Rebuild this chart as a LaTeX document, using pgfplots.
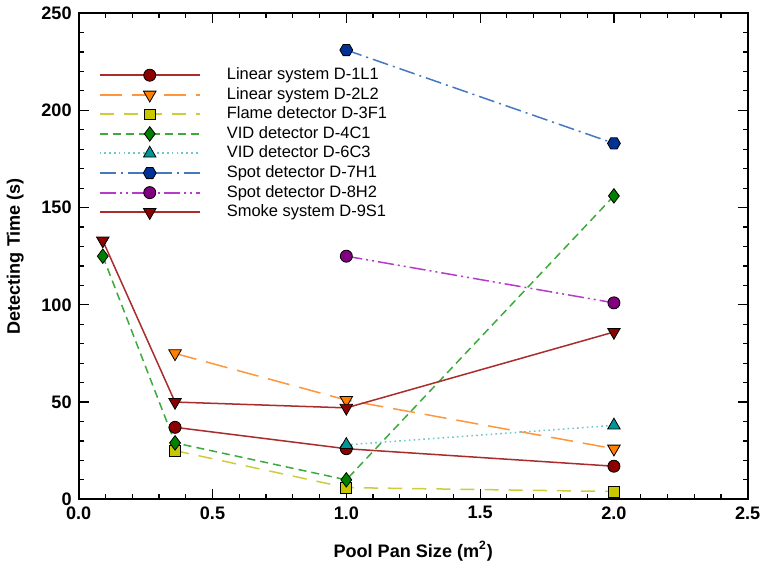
\documentclass[border=0pt]{standalone}
\usepackage{fontspec}
\setmainfont{Liberation Sans}
\usepackage{pgfplots}
\pgfplotsset{compat=1.18}
\pgfdeclareplotmark{hexagon*}{%
  \pgfpathmoveto{\pgfpointpolar{0}{\pgfplotmarksize}}%
  \pgfpathlineto{\pgfpointpolar{60}{\pgfplotmarksize}}%
  \pgfpathlineto{\pgfpointpolar{120}{\pgfplotmarksize}}%
  \pgfpathlineto{\pgfpointpolar{180}{\pgfplotmarksize}}%
  \pgfpathlineto{\pgfpointpolar{240}{\pgfplotmarksize}}%
  \pgfpathlineto{\pgfpointpolar{300}{\pgfplotmarksize}}%
  \pgfpathclose
  \pgfusepathqfillstroke}
\definecolor{cA}{RGB}{170,45,45}
\definecolor{cAm}{RGB}{140,0,0}
\definecolor{cB}{RGB}{255,150,60}
\definecolor{cBm}{RGB}{255,128,0}
\definecolor{cC}{RGB}{205,205,60}
\definecolor{cCm}{RGB}{200,200,0}
\definecolor{cD}{RGB}{60,170,60}
\definecolor{cDm}{RGB}{0,128,0}
\definecolor{cE}{RGB}{110,200,200}
\definecolor{cEm}{RGB}{0,150,150}
\definecolor{cF}{RGB}{70,120,190}
\definecolor{cFm}{RGB}{0,50,150}
\definecolor{cG}{RGB}{180,60,200}
\definecolor{cGm}{RGB}{128,0,128}
\begin{document}
\begin{tikzpicture}
\begin{axis}[
  scale only axis, width=333pt, height=242pt,
  xmin=0, xmax=2.5, ymin=0, ymax=250,
  xtick={0,0.5,1,1.5,2,2.5}, ytick={0,50,100,150,200,250},
  minor x tick num=4, minor y tick num=4,
  tick align=inside,
  major tick length=5pt, minor tick length=2.5pt,
  axis line style={line width=1pt},
  every tick/.style={black, line width=0.6pt},
  /pgf/number format/assume math mode=true,
  tick label style={font=\fontsize{9}{10}\selectfont\bfseries},
  xticklabel style={/pgf/number format/.cd, fixed, fixed zerofill, precision=1},
  yticklabel style={/pgf/number format/.cd, fixed, precision=0},
  xlabel={Pool Pan Size (m\textsuperscript{2})},
  ylabel={Detecting Time (s)},
  label style={font=\fontsize{9}{10}\selectfont\bfseries},
  xlabel style={yshift=-4pt},
  ylabel style={yshift=2pt},
  every axis plot/.append style={line width=0.75pt},
  legend cell align=left,
  legend style={at={(rel axis cs:0.02,0.905)}, anchor=north west, draw=none, fill=none,
    font=\fontsize{8.2}{9.5}\selectfont, row sep=-1.7pt,
    /tikz/every even column/.append style={column sep=0pt}},
  legend image code/.code={%
    \draw[mark repeat=2,mark phase=2,line width=1pt,#1] plot coordinates {(0pt,0pt) (25pt,0pt) (50pt,0pt)};
    \node at (57pt,0pt) {};},
]
\addplot[cA, mark=*, mark size=3pt, mark options={solid, draw=black, fill=cAm, line width=0.4pt}]
  coordinates {(0.36,37) (1.0,26) (2.0,17)};
\addlegendentry{Linear system D-1L1}
\addplot[cB, dash pattern=on 11pt off 5pt, mark=triangle*, mark size=3.6pt, mark options={solid, rotate=180, draw=black, fill=cBm, line width=0.4pt}]
  coordinates {(0.36,75) (1.0,51) (2.0,26)};
\addlegendentry{Linear system D-2L2}
\addplot[cC, dash pattern=on 7pt off 5pt, mark=square*, mark size=2.7pt, mark options={solid, draw=black, fill=cCm, line width=0.4pt}]
  coordinates {(0.36,25) (1.0,6) (2.0,4)};
\addlegendentry{Flame detector D-3F1}
\addplot[cD, dash pattern=on 4pt off 2.5pt, mark=diamond*, mark size=3.6pt, mark options={solid, draw=black, fill=cDm, line width=0.4pt}]
  coordinates {(0.09,125) (0.36,29) (1.0,10) (2.0,156)};
\addlegendentry{VID detector D-4C1}
\addplot[cE, dash pattern=on 0.8pt off 1.6pt, mark=triangle*, mark size=3.6pt, mark options={solid, draw=black, fill=cEm, line width=0.4pt}]
  coordinates {(1.0,28) (2.0,38)};
\addlegendentry{VID detector D-6C3}
\addplot[cF, dash pattern=on 8pt off 2.5pt on 1pt off 2.5pt, mark=hexagon*, mark size=3.2pt, mark options={solid, draw=black, fill=cFm, line width=0.4pt}]
  coordinates {(1.0,231) (2.0,183)};
\addlegendentry{Spot detector D-7H1}
\addplot[cG, dash pattern=on 8pt off 2pt on 1pt off 2pt on 1pt off 2pt, mark=*, mark size=3pt, mark options={solid, draw=black, fill=cGm, line width=0.4pt}]
  coordinates {(1.0,125) (2.0,101)};
\addlegendentry{Spot detector D-8H2}
\addplot[cA, mark=triangle*, mark size=3.6pt, mark options={solid, rotate=180, draw=black, fill=cAm, line width=0.4pt}]
  coordinates {(0.09,133) (0.36,50) (1.0,47) (2.0,86)};
\addlegendentry{Smoke system D-9S1}
\end{axis}
\end{tikzpicture}
\end{document}
